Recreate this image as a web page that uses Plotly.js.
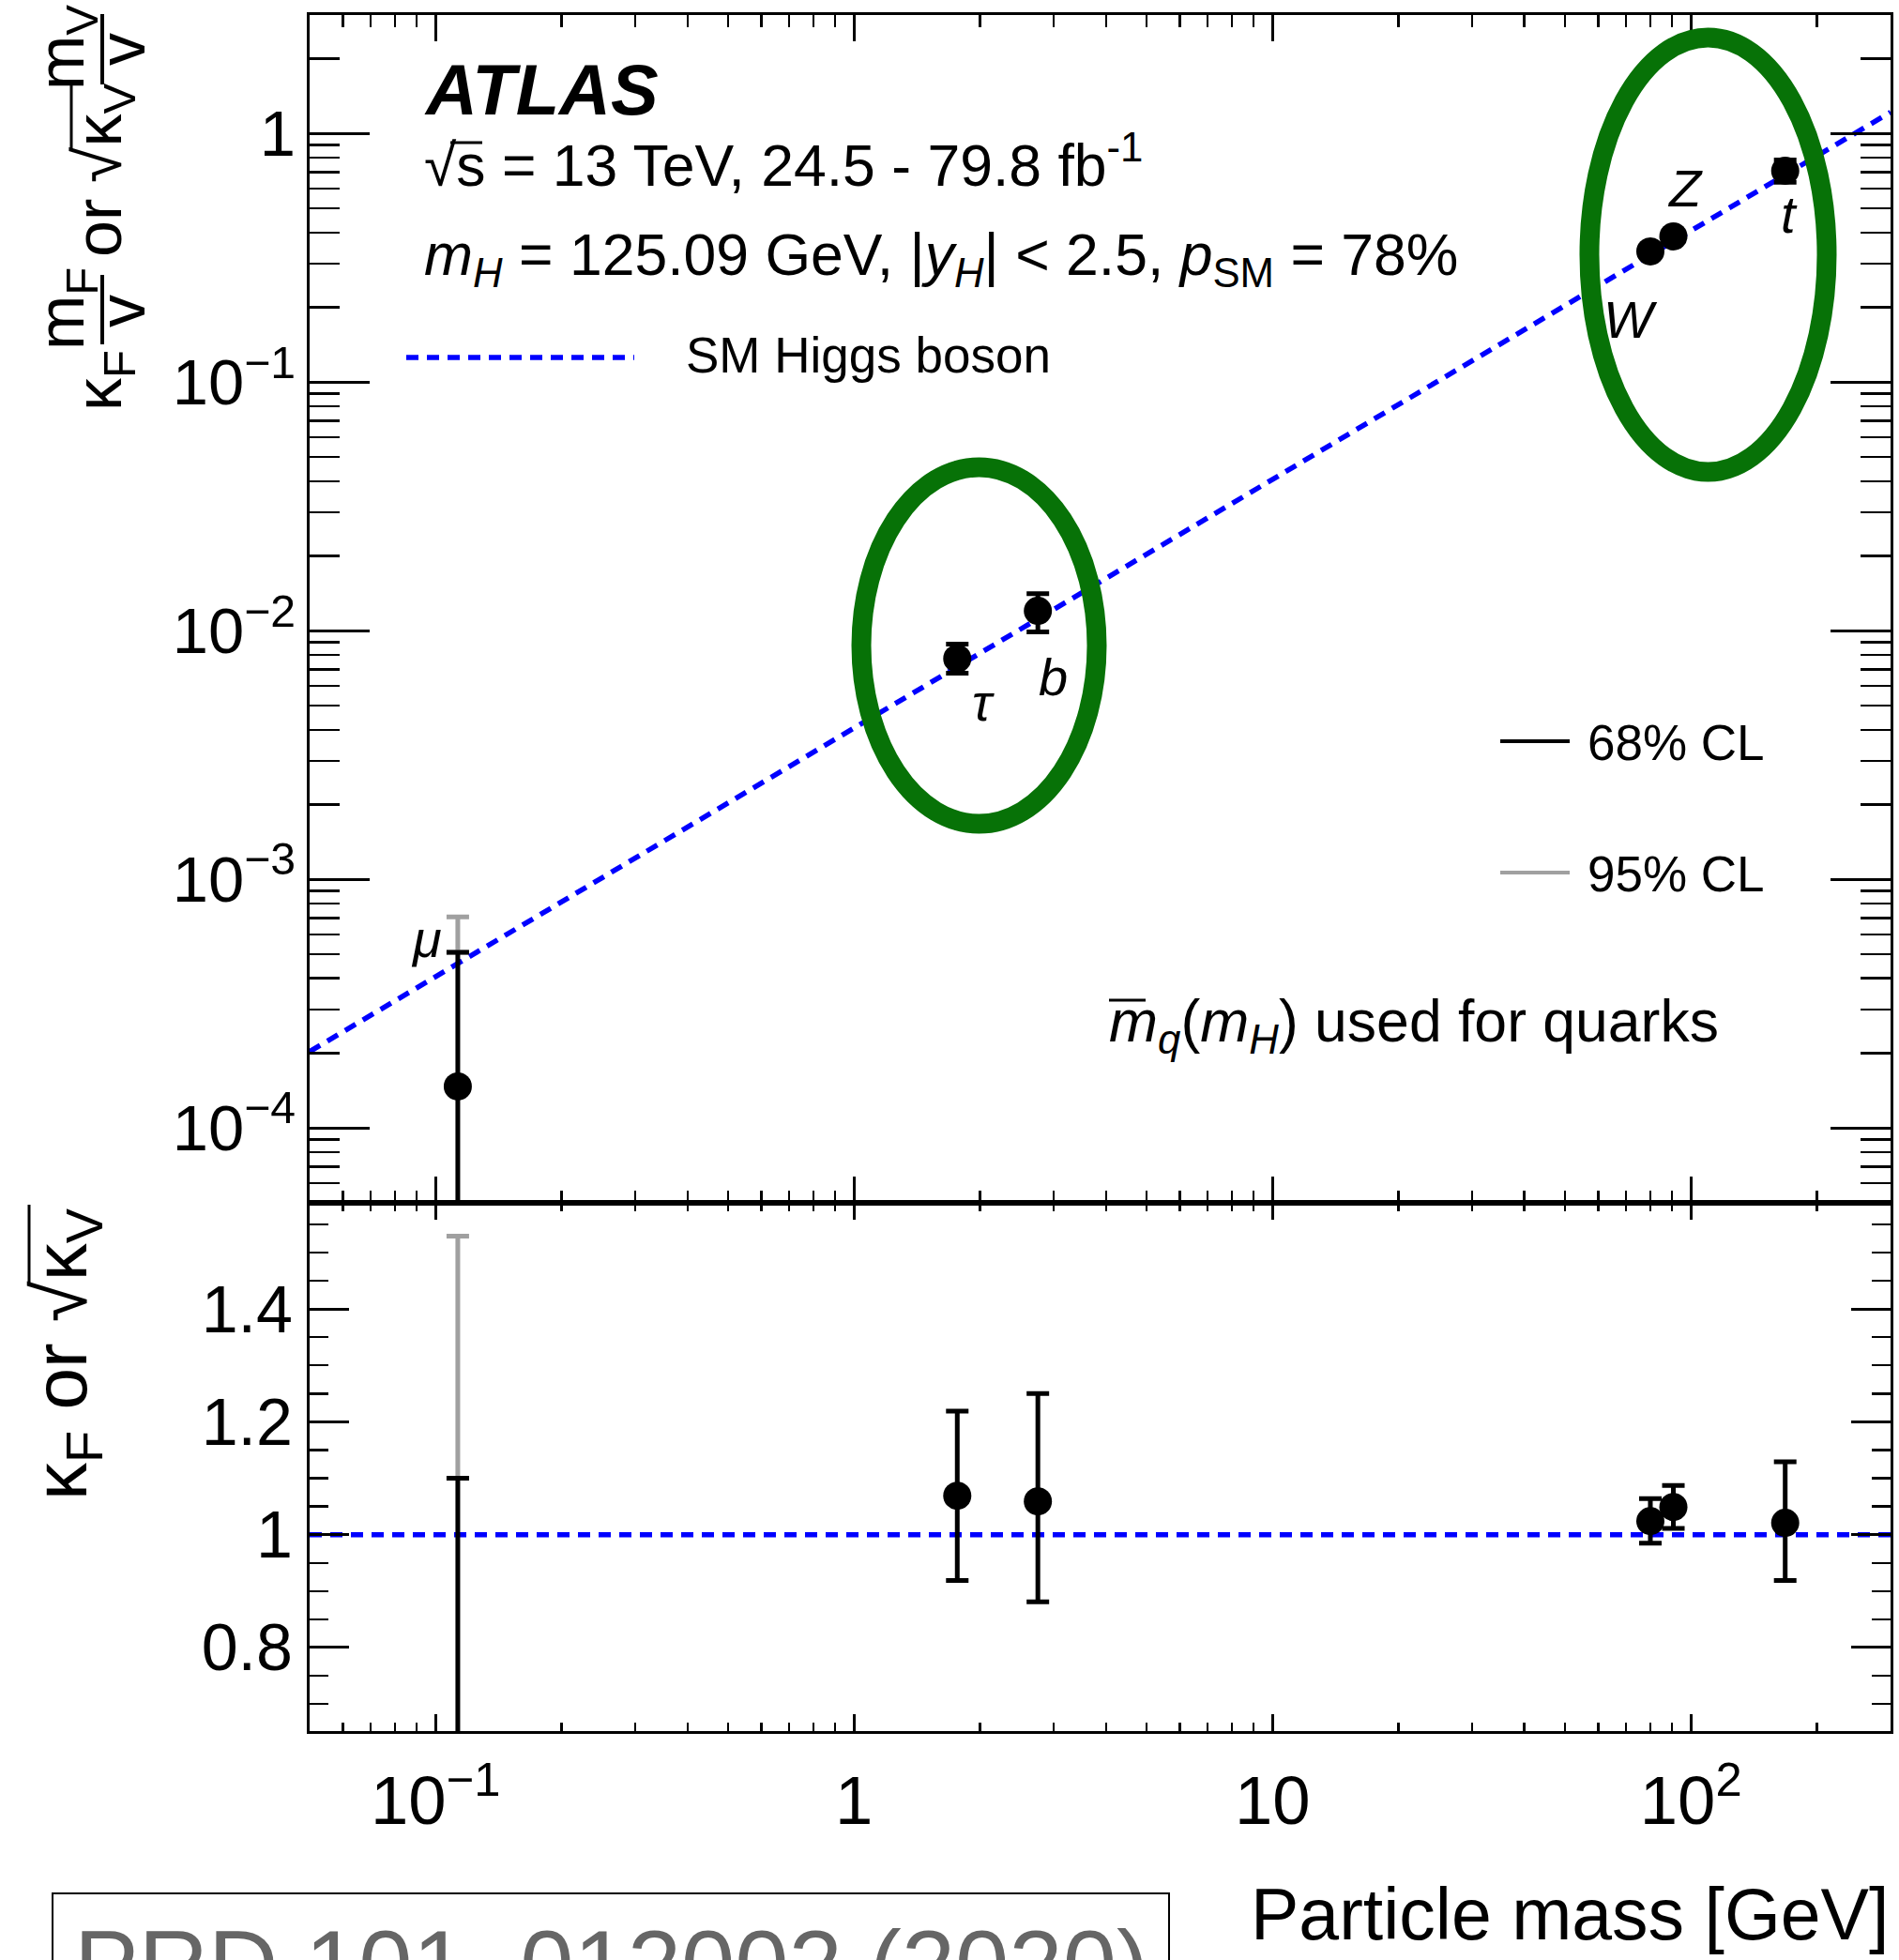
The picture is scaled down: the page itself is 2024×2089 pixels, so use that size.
<!DOCTYPE html>
<html><head><meta charset="utf-8">
<script src="https://cdn.plot.ly/plotly-3.0.1.min.js"></script>
<style>html,body{margin:0;padding:0;background:#fff;} #chart{width:2024px;height:2089px;}</style>
</head><body><div id="chart"></div>
<script>
// ---------------- data ----------------
const particles = ['μ', 'τ', 'b', 'W', 'Z', 't'];
const mass      = [0.113, 1.765, 2.75, 80.0, 90.8, 168];          // GeV
// upper panel: kappa_F m_F / v  or  sqrt(kappa_V) m_V / v
const upperVal  = [1.47e-4, 7.73e-3, 1.203e-2, 0.336, 0.386, 0.709];
const upperHi68 = [5.09e-4, 8.85e-3, 1.41e-2, 0.349, 0.400, 0.784];
const upperLo68 = [1e-6,    6.75e-3, 9.9e-3,  0.323, 0.372, 0.638];
const upperHi95 = [7.06e-4];           // muon only
// lower panel: kappa_F or sqrt(kappa_V)
const kappaVal  = [0.32, 1.069, 1.059, 1.024, 1.049, 1.021];
const kappaHi68 = [1.10, 1.219, 1.25, 1.064, 1.087, 1.129];
const kappaLo68 = [0.0,  0.919, 0.881, 0.985, 1.011, 0.919];
const kappaHi95 = [1.529];             // muon only
// SM Higgs boson prediction
const smMass  = [0.05, 300];
const smUpper = [2.03e-4, 1.22];
const smRatio = [1, 1];

// ---------------- layout geometry ----------------
const FONT = 'Liberation Sans, Arial, Helvetica, sans-serif';
const L = 330, R = 2015, T = 16, B = 1845, W = R - L, H = B - T, DIV = 1282;
const fx = x => (x - L) / W, fy = y => (B - y) / H;
const splitFrac = (B - DIV) / H;

const BLUE = '#0000ff', GREEN = '#077207', GREY = '#a0a0a0';
const DASH = '13px,9px';

const sub = (arr, base) => arr.map((v, i) => v - base[i]);

const traces = [
  // SM lines
  {x: smMass, y: smUpper, xaxis: 'x', yaxis: 'y', mode: 'lines',
   line: {color: BLUE, width: 5.5, dash: DASH}, hoverinfo: 'skip'},
  {x: smMass, y: smRatio, xaxis: 'x2', yaxis: 'y2', mode: 'lines',
   line: {color: BLUE, width: 5.5, dash: DASH}, hoverinfo: 'skip'},
  // 95% CL (muon) upper
  {x: [mass[0]], y: [upperHi68[0]], xaxis: 'x', yaxis: 'y', mode: 'markers',
   marker: {size: 1, opacity: 0},
   error_y: {type: 'data', symmetric: false, array: [upperHi95[0] - upperHi68[0]], arrayminus: [0],
             color: GREY, thickness: 5, width: 12}},
  // 95% CL (muon) lower
  {x: [mass[0]], y: [kappaHi68[0]], xaxis: 'x2', yaxis: 'y2', mode: 'markers',
   marker: {size: 1, opacity: 0},
   error_y: {type: 'data', symmetric: false, array: [kappaHi95[0] - kappaHi68[0]], arrayminus: [0],
             color: GREY, thickness: 5, width: 12}},
  // 68% CL upper
  {x: mass, y: upperVal, text: particles, xaxis: 'x', yaxis: 'y', mode: 'markers',
   marker: {size: 30, color: '#000'},
   error_y: {type: 'data', symmetric: false, array: sub(upperHi68, upperVal),
             arrayminus: upperVal.map((v, i) => v - upperLo68[i]),
             color: '#000', thickness: 5, width: 12}},
  // 68% CL lower
  {x: mass, y: kappaVal, text: particles, xaxis: 'x2', yaxis: 'y2', mode: 'markers',
   marker: {size: 30, color: '#000'},
   error_y: {type: 'data', symmetric: false, array: sub(kappaHi68, kappaVal),
             arrayminus: kappaVal.map((v, i) => v - kappaLo68[i]),
             color: '#000', thickness: 5, width: 12}}
];

const xRange = [Math.log10(0.05), Math.log10(300)];
const axCommon = {showgrid: false, zeroline: false, showline: true, linecolor: '#000', linewidth: 3,
                  mirror: 'allticks', ticks: 'inside', tickcolor: '#000', tickwidth: 3};

function ann(text, x, y, o) {
  const a = {text: text, x: fx(x), y: fy(y), xref: 'paper', yref: 'paper', showarrow: false,
             xanchor: 'left', yanchor: 'middle', font: {family: FONT, size: 53, color: '#000'}};
  return Object.assign(a, o || {});
}
function seg(x0, y0, x1, y1, color, width, dash) {
  return {type: 'line', xref: 'paper', yref: 'paper', x0: fx(x0), y0: fy(y0), x1: fx(x1), y1: fy(y1),
          line: {color: color, width: width, dash: dash || 'solid'}};
}
function ell(x0, y0, x1, y1) {
  return {type: 'circle', xref: 'paper', yref: 'paper', x0: fx(x0), y0: fy(y1), x1: fx(x1), y1: fy(y0),
          line: {color: GREEN, width: 21}, fillcolor: 'rgba(0,0,0,0)'};
}
const f = (s, o) => ({family: FONT, size: s, color: (o && o.color) || '#000'});

const annotations = [
  ann('<b><i>ATLAS</i></b>', 450, 96, {font: f(76)}),
  ann('√s = 13 TeV, 24.5 - 79.8 fb<sup>-1</sup>', 450, 213, {yanchor: 'bottom', font: f(62.5)}),
  ann('<i>m</i><sub><i>H</i></sub> = 125.09 GeV, |<i>y</i><sub><i>H</i></sub>| &lt; 2.5, <i>p</i><sub>SM</sub> = 78%', 450, 234, {yanchor: 'top', font: f(62.5)}),
  ann('SM Higgs boson', 729, 379, {font: f(53)}),
  ann('68% CL', 1690, 791, {font: f(53)}),
  ann('95% CL', 1690, 931, {font: f(53)}),
  ann('<i>m</i><sub><i>q</i></sub>(<i>m</i><sub><i>H</i></sub>) used for quarks', 1180, 1051, {yanchor: 'top', font: f(62.5)}),
  // particle labels
  ann('<i>μ</i>', 454, 1000, {xanchor: 'center', font: f(56)}),
  ann('<i>τ</i>', 1048, 749, {xanchor: 'center', font: f(56)}),
  ann('<i>b</i>', 1122, 721, {xanchor: 'center', font: f(56)}),
  ann('<i>W</i>', 1738, 340, {xanchor: 'center', font: f(56)}),
  ann('<i>Z</i>', 1796, 200, {xanchor: 'center', font: f(56)}),
  ann('<i>t</i>', 1907, 229, {xanchor: 'center', font: f(56)}),
  // x title
  ann('Particle mass [GeV]', 2015, 2040, {xanchor: 'right', font: f(77)}),
  // reference box text
  ann('PRD 101, 012002 (2020)', 77, 2035, {yanchor: 'top', font: f(103, {color: '#666666'})}),
  // upper y title pieces
  ann('κ<sub>F</sub>', 110, 405, {xanchor: 'center', textangle: -90, font: f(70)}),
  ann('m<sub>F</sub>', 70, 329, {xanchor: 'center', textangle: -90, font: f(70)}),
  ann('v', 130, 332, {xanchor: 'center', textangle: -90, font: f(70)}),
  ann('or', 105, 243, {xanchor: 'center', textangle: -90, font: f(70)}),
  ann('√κ<sub>V</sub>', 110, 142, {xanchor: 'center', textangle: -90, font: f(70)}),
  ann('m<sub>V</sub>', 70, 51, {xanchor: 'center', textangle: -90, font: f(70)}),
  ann('v', 130, 53, {xanchor: 'center', textangle: -90, font: f(70)}),
  // lower y title
  ann('κ<sub>F</sub> or √κ<sub>V</sub>', 70, 1443, {xanchor: 'center', textangle: -90, font: f(80)})
];

const shapes = [
  ell(918, 498, 1169, 878),
  ell(1694, 40, 1947, 503),
  seg(433, 381, 676, 381, BLUE, 5.5, DASH),
  seg(1599, 790, 1673, 790, '#000', 4),
  seg(1599, 930, 1673, 930, GREY, 4),
  seg(1182, 1066, 1221, 1066, '#000', 3),            // overline on m_q
  seg(480, 152, 514, 152, '#000', 3),                // sqrt overline on s
  seg(109, 293, 109, 367, '#000', 4),                // fraction bar F
  seg(109, 15, 109, 90, '#000', 4),                  // fraction bar V
  seg(76, 160, 76, 90, '#000', 3),                   // sqrt overline upper title
  seg(31, 1368, 31, 1284, '#000', 3),                // sqrt overline lower title
  {type: 'rect', xref: 'paper', yref: 'paper', x0: fx(56), x1: fx(1246), y0: fy(2018), y1: fy(2120),
   line: {color: '#000', width: 2}, fillcolor: 'rgba(0,0,0,0)'}
];

const layout = {
  width: 2024, height: 2089,
  margin: {l: L, r: 2024 - R, t: T, b: 2089 - B, pad: 0},
  paper_bgcolor: '#fff', plot_bgcolor: '#fff',
  showlegend: false,
  font: {family: FONT, color: '#000'},
  xaxis: Object.assign({}, axCommon, {type: 'log', range: xRange, anchor: 'y', dtick: 1,
    ticklen: 28, showticklabels: false,
    minor: {ticks: 'inside', dtick: 'D1', ticklen: 13, tickwidth: 2.5, tickcolor: '#000'}}),
  xaxis2: Object.assign({}, axCommon, {type: 'log', range: xRange, anchor: 'y2', dtick: 1,
    ticklen: 18, exponentformat: 'power', tickfont: {family: FONT, size: 58, color: '#000'},
    ticklabelstandoff: 12,
    minor: {ticks: 'inside', dtick: 'D1', ticklen: 9, tickwidth: 2.5, tickcolor: '#000'}}),
  yaxis: Object.assign({}, axCommon, {type: 'log', range: [Math.log10(5e-5), Math.log10(3)],
    domain: [splitFrac, 1], anchor: 'x', dtick: 1, ticklen: 64, exponentformat: 'power',
    tickfont: {family: FONT, size: 55, color: '#000'}, ticklabelstandoff: 1,
    minor: {ticks: 'inside', dtick: 'D1', ticklen: 32, tickwidth: 2.5, tickcolor: '#000'}}),
  yaxis2: Object.assign({}, axCommon, {range: [0.652, 1.588], domain: [0, splitFrac], anchor: 'x2',
    tick0: 0, dtick: 0.2, ticklen: 42, tickfont: {family: FONT, size: 70, color: '#000'},
    ticklabelstandoff: 1,
    minor: {ticks: 'inside', dtick: 0.05, ticklen: 20, tickwidth: 2.5, tickcolor: '#000'}}),
  annotations: annotations,
  shapes: shapes
};

Plotly.newPlot('chart', traces, layout, {displayModeBar: false, staticPlot: true});
</script></body></html>
